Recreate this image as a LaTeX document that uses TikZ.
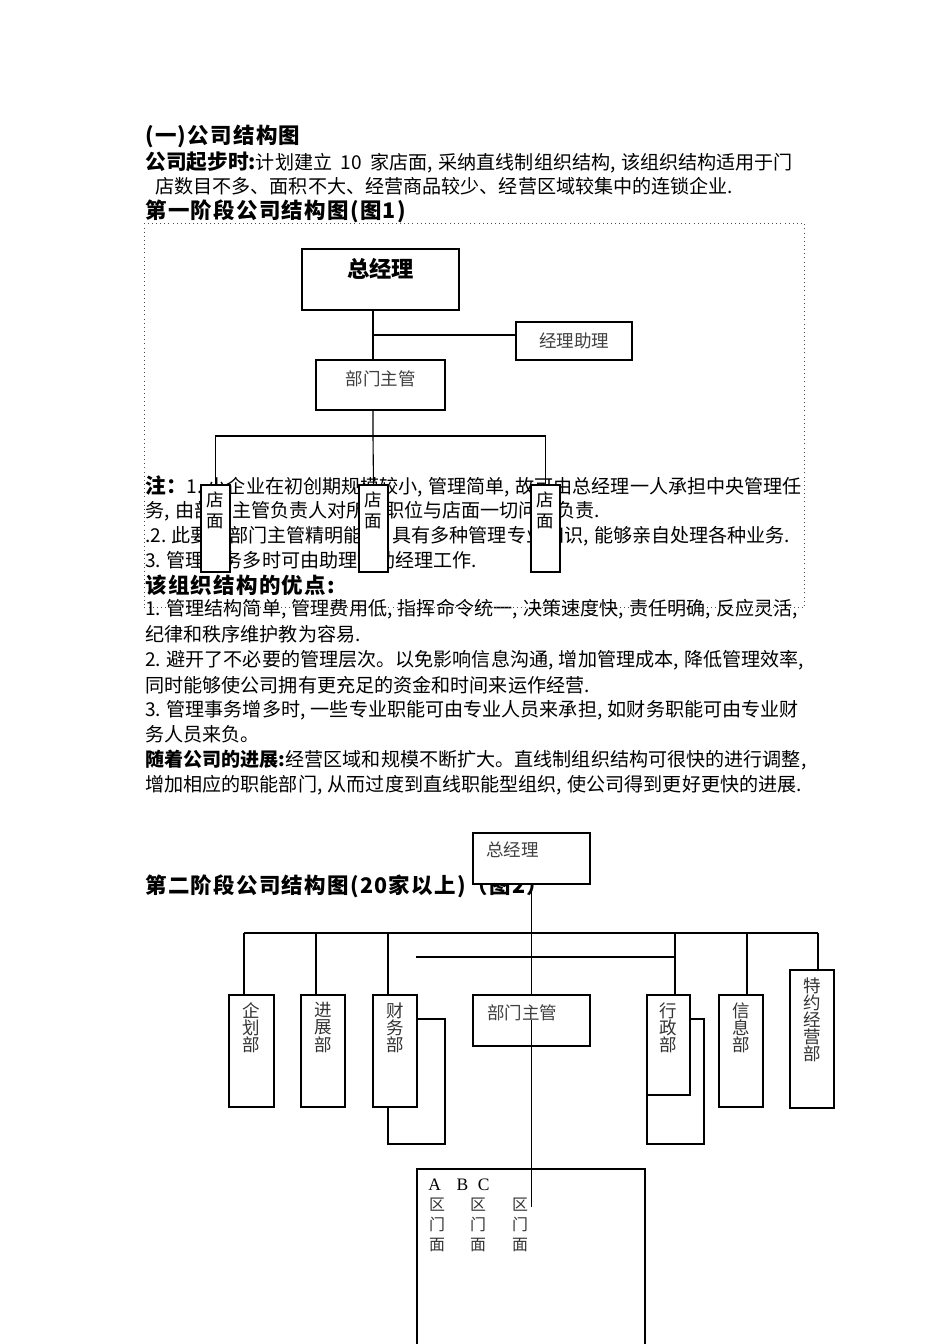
\documentclass[tikz,border=0pt]{standalone}
\usepackage{fontspec}
\setmainfont{Noto Sans CJK SC}
\newfontfamily\headfam{Noto Sans CJK SC}[LetterSpace=6]
\newfontfamily\abcfont{Liberation Serif}
\usetikzlibrary{positioning}
\newlength\pxu
\setlength\pxu{0.0221cm}
\newcommand\csep{\hspace{.28em}}

\begin{document}
\begin{tikzpicture}[
    x=0.0221cm, y=-0.0221cm,
    txt/.style={anchor=west, inner sep=0pt, font=\fontsize{12}{14}\selectfont},
    head/.style={anchor=west, inner sep=0pt, font=\headfam\fontsize{13.5}{16}\selectfont\bfseries},
    orgbox/.style 2 args={draw, line width=0.8pt, fill=white, anchor=north west,
                          inner sep=0pt, outer sep=0pt,
                          minimum width=#1\pxu, minimum height=#2\pxu},
    boxtext/.style={inner sep=0pt, align=center, text=black!75,
                    font=\fontsize{11}{12.6}\selectfont},
    vtext/.style={inner sep=0pt, align=center, text=black!80,
                  font=\fontsize{11}{10.8}\selectfont},
    link/.style={line width=0.7pt}
  ]
    \useasboundingbox (0,0) rectangle (950,1344);

    % page text
    \node[head] (h1) at (145,136) {(一)公司结构图};
    \node[txt] (p1) at (145,162) {{\fontsize{13}{14}\selectfont\bfseries 公司起步时:}计划建立\hspace{.45em}10\hspace{.45em}家店面,\csep 采纳直线制组织结构,\csep 该组织结构适用于门};
    \node[txt] (p2) at (155,186) {店数目不多、面积不大、经营商品较少、经营区域较集中的连锁企业.};
    \node[head] (h2) at (145,211) {第一阶段公司结构图(图1)};
    \node[txt] (n1) at (145,486) {{\fontsize{13}{14}\selectfont\bfseries 注：}1.\csep 小企业在初创期规模较小,\csep 管理简单,\csep 故可由总经理一人承担中央管理任};
    \node[txt] (n2) at (145,511) {务,\csep 由部门主管负责人对所有职位与店面一切问题负责.};
    \node[txt] (n3) at (145,536) {.2.\csep 此要求部门主管精明能干,\csep 具有多种管理专业知识,\csep 能够亲自处理各种业务.};
    \node[txt] (n4) at (145,560) {3.\csep 管理事务多时可由助理协助经理工作.};
    \node[head] (h3) at (145,585) {该组织结构的优点:};
    \node[txt] (a1) at (145,609) {1.\csep 管理结构简单,\csep 管理费用低,\csep 指挥命令统一,\csep 决策速度快,\csep 责任明确,\csep 反应灵活,};
    \node[txt] (a2) at (145,634) {纪律和秩序维护教为容易.};
    \node[txt] (a3) at (145,660) {2.\csep 避开了不必要的管理层次。以免影响信息沟通,\csep 增加管理成本,\csep 降低管理效率,};
    \node[txt] (a4) at (145,685) {同时能够使公司拥有更充足的资金和时间来运作经营.};
    \node[txt] (a5) at (145,710) {3.\csep 管理事务增多时,\csep 一些专业职能可由专业人员来承担,\csep 如财务职能可由专业财};
    \node[txt] (a6) at (145,734) {务人员来负。};
    \node[txt] (d1) at (145,760) {{\bfseries 随着公司的进展:}经营区域和规模不断扩大。直线制组织结构可很快的进行调整,};
    \node[txt] (d2) at (145,785) {增加相应的职能部门,\csep 从而过度到直线职能型组织,\csep 使公司得到更好更快的进展.};
    \node[head] (h4) at (145,886) {第二阶段公司结构图(20家以上)（图2）};

    % figure 1
    \node[draw, dotted, line width=0.6pt, black!70, anchor=north west, inner sep=0pt,
          minimum width=660\pxu, minimum height=384\pxu] (fig1) at (144,223) {};
    \coordinate (trunk) at (373,436);
    \coordinate (asstjoin) at (373,335);
    \node[orgbox={157}{61}] (gm1) at (302,249) {};
    \node[below=9\pxu of gm1.north, inner sep=0pt,
          font=\fontsize{14}{16}\selectfont\bfseries] (gm1-t) {总经理};
    \node[orgbox={116}{38}, boxtext] (asst) at (516,322) {经理助理};
    \node[orgbox={129}{50}] (dept1) at (316,360) {};
    \node[boxtext, below=10\pxu of dept1.north] (dept1-t) {部门主管};
    \foreach \s/\x in {s1/201, s2/359, s3/531} {
      \node[orgbox={29}{87}] (\s) at (\x,485) {};
      \node[boxtext, text=black, below=7\pxu of \s.north] (\s-t) {店\\面};
    }
    \draw[link] (gm1.south -| trunk) -- (dept1.north -| trunk);
    \draw[link] (asstjoin) -- (asstjoin -| asst.west);
    \draw[link] (dept1.south -| trunk) -- (trunk) -- (s2.north);
    \draw[link] (s1.north) |- (trunk) -| (s3.north);

    % figure 2
    \node[orgbox={117}{51}] (gm2) at (473,833) {};
    \node[boxtext, below right=8\pxu and 13\pxu of gm2.north west] (gm2-t) {总经理};
    \node[orgbox={57}{125}] (finback) at (388,1019) {};
    \node[orgbox={57}{125}] (admback) at (647,1019) {};
    \foreach \n/\x/\y/\w/\h/\t in {plan/229/995/45/112/{企\\划\\部},
                                   dev/301/995/44/112/{进\\展\\部},
                                   fin/373/995/44/112/{财\\务\\部},
                                   adm/647/995/43/100/{行\\政\\部},
                                   info/719/995/44/112/{信\\息\\部},
                                   spec/790/970/44/138/{特\\约\\经\\营\\部}} {
      \node[orgbox={\w}{\h}] (\n) at (\x,\y) {};
      \node[vtext, below=7\pxu of \n.north] (\n-t) {\t};
    }
    \node[orgbox={117}{51}] (mgr2) at (473,995) {};
    \node[boxtext, below right=9\pxu and 14\pxu of mgr2.north west] (mgr2-t) {部门主管};
    \node[orgbox={228}{200}] (abc) at (417,1169) {};
    \node[anchor=west, inner sep=0pt, font=\abcfont\fontsize{11}{13}\selectfont]
      (abc-h) at (428,1185) {A\hspace{0.9em}B\hspace{0.55em}C};
    \foreach \c/\x in {a/437, b/478, c/520}
      \node[vtext, anchor=north, font=\fontsize{10}{12.6}\selectfont] (abc-\c) at (\x,1198) {区\\门\\面};

    \coordinate (barL) at (244,933);
    \coordinate (barR) at (818,933);
    \draw[link] (barL) -- (barR);
    \foreach \n/\x in {plan/244, dev/316, fin/388, adm/675, info/747, spec/818} {
      \coordinate (tap-\n) at (\x,933);
      \draw[link] (tap-\n) -- (tap-\n |- \n.north);
    }
    \coordinate (sub) at (416,957);
    \draw[link] (sub) -- (sub -| tap-adm);
    \draw[link] (gm2.south) -- (mgr2.north);
    \coordinate (mgrin) at (531.5,1020);
    \coordinate (abcend) at (531.5,1207);
    \draw[link] (mgrin) -- (abcend);
  \end{tikzpicture}
\end{document}
